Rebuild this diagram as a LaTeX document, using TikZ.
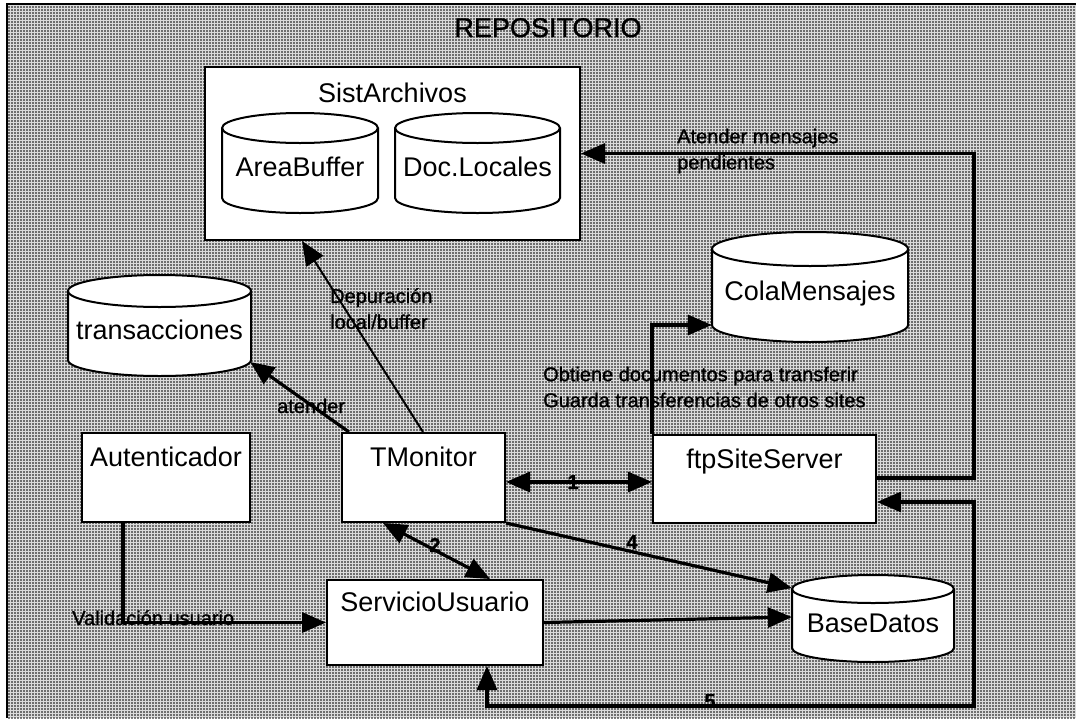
\documentclass[tikz,border=0pt]{standalone}
\usepackage{fontspec}
\setmainfont{Liberation Sans}
\newfontfamily\heavyfont[FakeBold=1.2]{Liberation Sans}
\usetikzlibrary{arrows.meta,patterns.meta}

\newcommand\bigtxt{\fontsize{27}{32}\selectfont}
\newcommand\labtxt{\heavyfont\fontsize{20}{26}\selectfont}
\newcommand\reptxt{\heavyfont\fontsize{27}{32}\selectfont}

% database drum: name, left x, right x, top y, bottom y, lid half-height, text
\newcommand\dbcyl[7]{%
  \pgfmathsetmacro\cylM{(#2+#3)/2}%
  \pgfmathsetmacro\cylKX{0.5523*(#3-#2)/2}%
  \pgfmathsetmacro\cylMl{\cylM-\cylKX}%
  \pgfmathsetmacro\cylMr{\cylM+\cylKX}%
  \pgfmathsetmacro\cylKY{0.5523*#6}%
  \pgfmathsetmacro\cylTC{#4+#6}%
  \pgfmathsetmacro\cylTCk{\cylTC-\cylKY}%
  \pgfmathsetmacro\cylTCf{\cylTC+\cylKY}%
  \pgfmathsetmacro\cylTF{#4+2*#6}%
  \pgfmathsetmacro\cylBC{#5-#6}%
  \pgfmathsetmacro\cylBCk{\cylBC+\cylKY}%
  \pgfmathsetmacro\cylCY{(#4+#5)/2}%
  \pgfmathsetmacro\cylW{#3-#2}%
  \pgfmathsetmacro\cylH{#5-#4}%
  \filldraw[cylline, fill=white] (#2,\cylTC) -- (#2,\cylBC)
    .. controls (#2,\cylBCk) and (\cylMl,#5) .. (\cylM,#5)
    .. controls (\cylMr,#5) and (#3,\cylBCk) .. (#3,\cylBC)
    -- (#3,\cylTC)
    .. controls (#3,\cylTCk) and (\cylMr,#4) .. (\cylM,#4)
    .. controls (\cylMl,#4) and (#2,\cylTCk) .. (#2,\cylTC) -- cycle;
  \draw[cylline] (#2,\cylTC)
    .. controls (#2,\cylTCf) and (\cylMl,\cylTF) .. (\cylM,\cylTF)
    .. controls (\cylMr,\cylTF) and (#3,\cylTCf) .. (#3,\cylTC);
  \node[dbtext, minimum width=\cylW*1pt, minimum height=\cylH*1pt] (#1) at (\cylM,\cylCY) {#7};
}

\tikzset{
  bigtip/.tip={Triangle[length=24pt,width=20pt]},
  container/.style={draw, fill=white, line width=2pt, inner sep=0pt},
  box/.style={draw, fill=white, line width=2pt, inner sep=0pt,
              text height=19pt, text depth=41pt, font=\bigtxt},
  cylline/.style={draw=black, line width=2pt},
  dbtext/.style={inner sep=0pt, text height=27pt, text depth=0pt, font=\bigtxt},
  title/.style={inner sep=0pt, font=\bigtxt},
  elabel/.style={inner sep=0pt, font=\labtxt, align=left},
  num/.style={inner sep=0pt, font=\labtxt\bfseries},
  conn/.style={line width=3.2pt, -bigtip},
  conn2/.style={line width=3.2pt, bigtip-bigtip},
}

\begin{document}
\begin{tikzpicture}[x=1pt,y=-1pt]
  \useasboundingbox (0,0) rectangle (1076,718);
  \fill[white] (0,0) rectangle (1076,718);

  % repository area: light grey with a dot screen
  \fill[black!14] (7,4) rectangle (1076,718);
  \fill[pattern={Dots[distance=3pt,radius=0.95pt]}, pattern color=black]
    (7,4) rectangle (1076,718);
  \draw[line width=2pt] (7,718) -- (7,4) -- (1076,4);
  \node[title, font=\reptxt, anchor=base] (rep) at (548,37) {REPOSITORIO};

  % file system
  \node[container, minimum width=375pt, minimum height=173pt] (sa) at (392.5,153.5) {};
  \node[title, anchor=base] (sa-t) at (392.5,102.5) {SistArchivos};
  \dbcyl{ab}{222}{378}{113}{213}{15}{AreaBuffer}
  \dbcyl{dl}{395}{560}{113}{213}{15}{Doc.Locales}

  % stores
  \dbcyl{tr}{68}{251}{275}{376}{16}{transacciones}
  \dbcyl{cm}{712}{908}{232}{342}{17}{ColaMensajes}
  \dbcyl{bd}{792}{954}{575}{662}{14}{BaseDatos}

  % components
  \node[box, minimum width=168pt, minimum height=89pt] (au)  at (166,477.5)   {Autenticador};
  \node[box, minimum width=163pt, minimum height=89pt] (tm)  at (423.5,477.5) {TMonitor};
  \node[box, minimum width=223pt, minimum height=88pt] (ftp) at (764.5,479)   {ftpSiteServer};
  \node[box, minimum width=216pt, minimum height=85pt] (su)  at (435,622.5)   {ServicioUsuario};

  % routing corners
  \coordinate (r1) at (974,153.5);
  \coordinate (r5) at (974,706);

  % connectors
  \draw[conn2] ([yshift=-4.5pt]tm.east) -- ([yshift=-3pt]ftp.west);
  \draw[conn2] ([xshift=-40.5pt]tm.south) -- ([xshift=55pt]su.north);
  \draw[conn] (tm.south east) -- ([yshift=30.5pt]bd.west);
  \draw[conn] (su.east) -- ([yshift=1.5pt]bd.west);
  \draw[conn2] ([yshift=-23pt]ftp.east) -| (r5) -| ([xshift=52pt]su.south);
  \draw[conn] ([yshift=1pt]ftp.east) -| (r1) -- (sa.east);
  \draw[conn] (ftp.north west) |- ([yshift=-38pt]cm.west);
  \draw[conn, line width=2pt] ([xshift=-0.5pt]tm.north) -- ([xshift=-90.5pt]sa.south);
  \draw[conn] ([xshift=8pt]tm.north west) -- ([shift={(-1pt,-36.5pt)}]tr.east);
  \draw[conn] ([xshift=-43pt]au.south) |- (su.west);

  % connector labels
  \node[elabel, anchor=north west] (l-atm) at (677,128.5) {Atender mensajes\\pendientes};
  \node[elabel, anchor=north west] (l-obt) at (543,366.5) {Obtiene documentos para transferir\\Guarda transferencias de otros sites};
  \node[elabel, anchor=north west] (l-dep) at (330,288) {Depuración\\local/buffer};
  \node[elabel, anchor=base west] (l-ate) at (277,413) {atender};
  \node[elabel, anchor=base west] (l-val) at (72,625) {Validación usuario};
  \node[num] (n1) at (573,482) {1};
  \node[num] (n2) at (435,545) {2};
  \node[num] (n4) at (632,542) {4};
  \node[num] (n5) at (710,701) {5};
\end{tikzpicture}
\end{document}
